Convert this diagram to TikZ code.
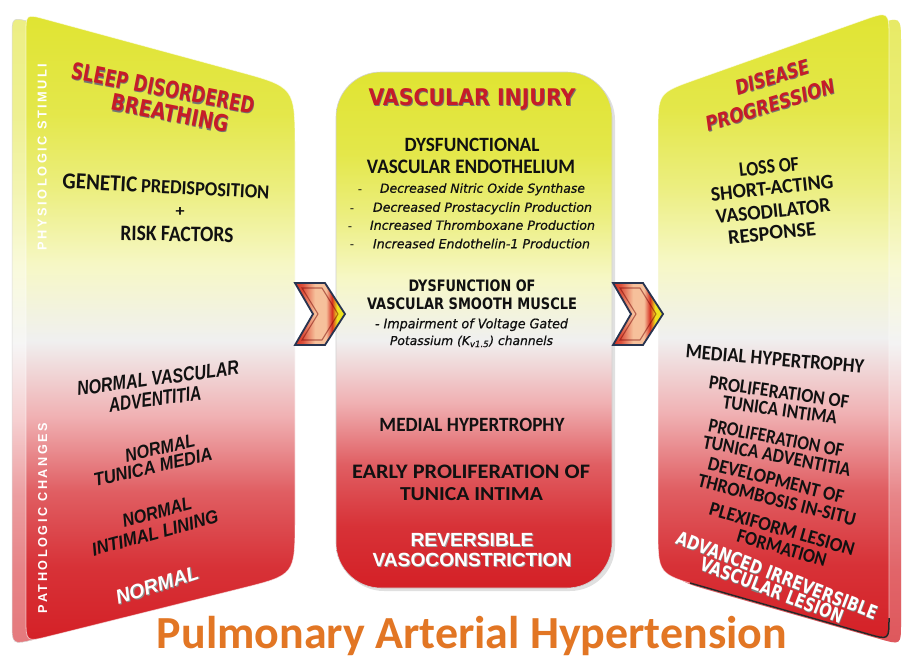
\documentclass[tikz,border=0pt]{standalone}
\usepackage{fontspec}
\setmainfont{Carlito}
\newfontfamily\fcal{Carlito}
\newfontfamily\fdv{DejaVu Sans}
\newfontfamily\fdvi[ItalicFeatures={FakeBold=0.6}]{DejaVu Sans}
\newfontfamily\flib{Liberation Sans}
\newfontfamily\fsp[LetterSpace=20]{Liberation Sans}
\usetikzlibrary{fadings}

\definecolor{pyel}{RGB}{224,228,50}
\definecolor{pred}{RGB}{212,32,38}
\definecolor{hred}{RGB}{198,28,40}
\definecolor{ttl}{RGB}{226,118,36}
\definecolor{navy}{RGB}{40,52,80}
\definecolor{chr}{RGB}{214,48,32}
\definecolor{chp}{RGB}{246,192,155}
\definecolor{chy}{RGB}{238,226,30}
\definecolor{ink}{RGB}{17,17,17}

\pgfdeclareverticalshading{panelsh}{100bp}{color(0bp)=(pred); color(25bp)=(pred); color(31bp)=(pred!92!white); color(37bp)=(pred!72!white); color(43bp)=(pred!35!white); color(49bp)=(black!6); color(55bp)=(pyel!28!white); color(61bp)=(pyel!62!white); color(67bp)=(pyel!88!white); color(75bp)=(pyel); color(100bp)=(pyel)}
\pgfdeclarehorizontalshading{chevsh}{100bp}{color(0bp)=(chr); color(25bp)=(chr); color(33bp)=(chr!75!chp); color(45bp)=(chp); color(56bp)=(chp); color(62bp)=(chr); color(67bp)=(chy); color(75bp)=(chy); color(100bp)=(chy)}

\newcommand\tx[3]{\resizebox{#1pt}{#2pt}{\raisebox{0pt}[\height][0pt]{#3}}}
\newcommand\shd[2]{\rlap{\kern0.045em\raisebox{-0.045em}{\color{#1}#2}}#2}

\tikzset{
  lbl/.style={inner sep=0pt, anchor=center, text=ink},
  leftp/.style={insert path={(26,300) -- (26,34) .. controls (26,14) .. (45.3,19.2) -- (237.1,71.3) .. controls (295,87) .. (295,147) -- (295,520) .. controls (295,575) .. (241.6,588.3) -- (49.3,636.2) .. controls (26,642) .. (26,618) -- cycle}},
  rightp/.style={insert path={(658,300) -- (658,133) .. controls (658,93) .. (695.7,79.6) -- (862.6,20.4) .. controls (889,11) .. (889,39) -- (889,618) .. controls (889,640) .. (867.8,634) -- (701.3,586.4) .. controls (658,574) .. (658,529) -- cycle}},
  chevron/.pic={
    \path[shading=chevsh, draw=navy, line width=1.8pt, line join=miter] (0,0) -- (30,0) -- (50,31) -- (30,62) -- (0,62) -- (18,31) -- cycle;
    \draw[red!45!black, opacity=.5, line width=1.1pt] (7,5) -- (27,5) -- (43,31) -- (27,57) -- (7,57) -- (23,31) -- cycle;
  }
}

\begin{document}
\begin{tikzpicture}[x=1pt,y=-1pt]
\useasboundingbox (0,0) rectangle (906,659);
\fill[white] (0,0) rectangle (906,659);

% ---------- left panel ----------
\path[shading=panelsh, shift={(-14,3)}, leftp];
\fill[white, fill opacity=0.4, shift={(-14,3)}, leftp];
\draw[white!70!gray, line width=.5pt, shift={(-14,3)}, leftp];
\path[shading=panelsh, leftp];
\draw[white, opacity=.6, line width=.8pt, leftp];

% ---------- centre panel ----------
\fill[black, opacity=.12, rounded corners=45pt] (339,75) rectangle (615,591);
\path[shading=panelsh, rounded corners=45pt] (336,72) rectangle (612,588);
\draw[black!18, line width=.6pt, rounded corners=45pt] (336,72) rectangle (612,588);

% ---------- right panel ----------
\path[shading=panelsh, shift={(12,5)}, rightp];
\fill[white, fill opacity=0.25, shift={(12,5)}, rightp];
\path[shading=panelsh, rightp];
\draw[white, opacity=.6, line width=.8pt, rightp];
\draw[black!85, line width=1.5pt] (690,583) -- (867.8,634) .. controls (889,640) .. (889,618);

% ---------- chevrons ----------
\pic (ch1) at (295,283) {chevron};
\pic (ch2) at (613,283) {chevron};

% ---------- left texts ----------
\node[lbl, rotate=90, text=white] (phys) at (42,157) {\tx{187}{9}{\fsp\bfseries PHYSIOLOGIC STIMULI}};
\node[lbl, rotate=90, text=white] (patho) at (42.5,518) {\tx{190}{9}{\fsp\bfseries PATHOLOGIC CHANGES}};

\node[lbl, text=hred, rotate=-11] (sdb1) at (163,88) {\tx{186}{17}{\fdv\bfseries\shd{black!55}{SLEEP DISORDERED}}};
\node[lbl, text=hred, rotate=-11] (sdb2) at (170,113) {\tx{119}{17}{\fdv\bfseries\shd{black!55}{BREATHING}}};
\node[lbl, rotate=-3] (gen) at (166,186) {\tx{207}{15}{\fcal\bfseries{\fontsize{12}{14}\selectfont GENETIC} {\fontsize{10.5}{12}\selectfont PREDISPOSITION}}};
\node[lbl] (plus) at (180,212) {\tx{9}{9}{\fcal\bfseries +}};
\node[lbl, rotate=-1] (risk) at (177,234) {\tx{113}{14.5}{\fcal\bfseries RISK FACTORS}};

\node[lbl, rotate=7.5] (nva) at (158,378) {\tx{163}{14}{\flib\bfseries\itshape NORMAL VASCULAR}};
\node[lbl, rotate=7.5] (adv) at (155,399) {\tx{93}{14}{\flib\bfseries\itshape ADVENTITIA}};
\node[lbl, rotate=12.5] (ntm1) at (160,448) {\tx{71}{13}{\flib\bfseries\itshape NORMAL}};
\node[lbl, rotate=12.5] (ntm2) at (153,467) {\tx{121}{13}{\flib\bfseries\itshape TUNICA MEDIA}};
\node[lbl, rotate=15] (nil1) at (157,512) {\tx{71}{13}{\flib\bfseries\itshape NORMAL}};
\node[lbl, rotate=15] (nil2) at (155,533) {\tx{130}{13}{\flib\bfseries\itshape INTIMAL LINING}};
\node[lbl, rotate=18, text=white] (norm) at (157,585) {\tx{86}{14}{\flib\bfseries\itshape\shd{black!45}{NORMAL}}};

% ---------- centre texts ----------
\node[lbl, text=hred] (vi) at (472,97) {\tx{207}{17}{\fdv\bfseries\shd{black!55}{VASCULAR INJURY}}};
\node[lbl] (dve1) at (472,145) {\tx{135}{13.3}{\fcal\bfseries DYSFUNCTIONAL}};
\node[lbl] (dve2) at (471,167) {\tx{208}{13.5}{\fcal\bfseries VASCULAR ENDOTHELIUM}};

\node[anchor=base, inner sep=0pt, text=ink] (d1) at (360,193) {\fdv\fontsize{12}{14}\selectfont -};
\node[anchor=base, inner sep=0pt, text=ink] (d2) at (352,212) {\fdv\fontsize{12}{14}\selectfont -};
\node[anchor=base, inner sep=0pt, text=ink] (d3) at (350,230) {\fdv\fontsize{12}{14}\selectfont -};
\node[anchor=base, inner sep=0pt, text=ink] (d4) at (352,248.5) {\fdv\fontsize{12}{14}\selectfont -};
\node[lbl] (it1) at (482.5,188) {\tx{205}{9.5}{\fdvi\itshape Decreased Nitric Oxide Synthase}};
\node[lbl] (it2) at (482.5,207) {\tx{219}{9.5}{\fdvi\itshape Decreased Prostacyclin Production}};
\node[lbl] (it3) at (482.5,225) {\tx{225}{9.5}{\fdvi\itshape Increased Thromboxane Production}};
\node[lbl] (it4) at (481.5,243.5) {\tx{217}{9.5}{\fdvi\itshape Increased Endothelin-1 Production}};

\node[lbl] (dsm1) at (472,286) {\tx{127}{11.7}{\fdv\bfseries DYSFUNCTION OF}};
\node[lbl] (dsm2) at (472,304) {\tx{210}{11.7}{\fdv\bfseries VASCULAR SMOOTH MUSCLE}};
\node[lbl] (imp1) at (471.5,323.3) {\tx{193}{10}{\fdvi\itshape - Impairment of Voltage Gated}};
\node[anchor=base, inner sep=0pt, text=ink] (imp2) at (471.5,345) {\resizebox{163pt}{!}{\fdvi\itshape Potassium (K\textsubscript{v1.5}) channels}};

\node[lbl] (mh) at (472,425) {\tx{185}{13.3}{\fcal\bfseries MEDIAL HYPERTROPHY}};
\node[lbl] (ep1) at (471,471.7) {\tx{238}{13.5}{\fcal\bfseries EARLY PROLIFERATION OF}};
\node[lbl] (ep2) at (471.5,494) {\tx{143}{13}{\fcal\bfseries TUNICA INTIMA}};
\node[lbl, text=white] (rv1) at (472,540) {\tx{123}{13.3}{\flib\bfseries\shd{black!35}{REVERSIBLE}}};
\node[lbl, text=white] (rv2) at (472,560) {\tx{199}{13.3}{\flib\bfseries\shd{black!35}{VASOCONSTRICTION}}};

% ---------- right texts ----------
\node[lbl, text=hred, rotate=17] (ds1) at (772,77) {\tx{76}{15}{\fdv\bfseries\itshape\shd{black!55}{DISEASE}}};
\node[lbl, text=hred, rotate=17] (ds2) at (770,105) {\tx{134}{15}{\fdv\bfseries\itshape\shd{black!55}{PROGRESSION}}};
\node[lbl, rotate=6] (lo1) at (769,167) {\tx{60}{13.5}{\fcal\bfseries LOSS OF}};
\node[lbl, rotate=6] (lo2) at (772,188) {\tx{123}{13.5}{\fcal\bfseries SHORT-ACTING}};
\node[lbl, rotate=6] (lo3) at (773,211) {\tx{115}{13.5}{\fcal\bfseries VASODILATOR}};
\node[lbl, rotate=6] (lo4) at (772,233) {\tx{88}{13.5}{\fcal\bfseries RESPONSE}};

\node[lbl, rotate=-5] (rmh) at (775,359) {\tx{179}{13.5}{\fcal\bfseries MEDIAL HYPERTROPHY}};
\node[lbl, rotate=-8] (pti1) at (779,392) {\tx{141}{13}{\fcal\bfseries PROLIFERATION OF}};
\node[lbl, rotate=-8] (pti2) at (780,410) {\tx{115}{13}{\fcal\bfseries TUNICA INTIMA}};
\node[lbl, rotate=-11] (pta1) at (776,438) {\tx{137}{13}{\fcal\bfseries PROLIFERATION OF}};
\node[lbl, rotate=-11] (pta2) at (777,456) {\tx{150}{13}{\fcal\bfseries TUNICA ADVENTITIA}};
\node[lbl, rotate=-14] (dev1) at (776,480) {\tx{139}{13}{\fcal\bfseries DEVELOPMENT OF}};
\node[lbl, rotate=-14] (dev2) at (777,500) {\tx{162}{13}{\fcal\bfseries THROMBOSIS IN-SITU}};
\node[lbl, rotate=-16] (plx1) at (782,529) {\tx{150}{13}{\fcal\bfseries PLEXIFORM LESION}};
\node[lbl, rotate=-16] (plx2) at (782,548) {\tx{92}{13}{\fcal\bfseries FORMATION}};
\node[lbl, rotate=-21, text=white] (adv1) at (777,575) {\tx{214}{14}{\fdv\bfseries\shd{black!50}{ADVANCED IRREVERSIBLE}}};
\node[lbl, rotate=-21, text=white] (adv2) at (772,590) {\tx{152}{14}{\fdv\bfseries\shd{black!50}{VASCULAR LESION}}};

% ---------- title ----------
\node[anchor=base, inner sep=0pt, text=ttl] (title) at (472,648) {\resizebox{630pt}{!}{\fcal\bfseries Pulmonary Arterial Hypertension}};
\end{tikzpicture}
\end{document}
